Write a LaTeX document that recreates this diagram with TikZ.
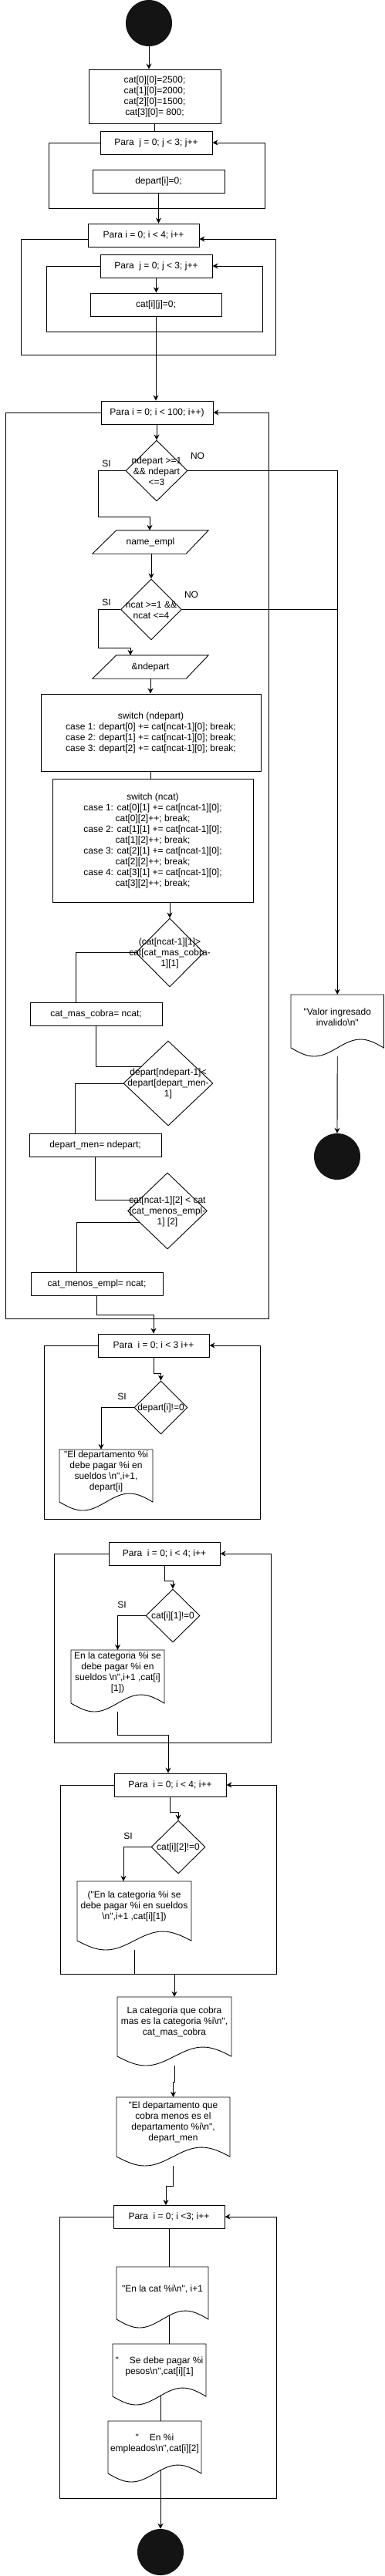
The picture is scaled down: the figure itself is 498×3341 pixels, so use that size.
\documentclass[tikz,border=0pt]{standalone}
\usepackage{fontspec}
\setmainfont{Liberation Sans}
\usetikzlibrary{shapes.geometric,arrows.meta,calc}
\definecolor{termfill}{RGB}{20,20,20}
\newcommand\dqt{\textquotedbl}
\newcommand\bsn{\textbackslash n}
\newcommand\docshape[8]{%
  \pgfmathsetmacro\dsxa{#4-(#4-#2)/4}%
  \pgfmathsetmacro\dsxb{(#2+#4)/2}%
  \pgfmathsetmacro\dsxc{#2+(#4-#2)/4}%
  \pgfmathsetmacro\dsw{#4-#2}%
  \pgfmathsetmacro\dsh{#5+#6-#3}%
  \pgfmathsetmacro\dsyc{(#3+#5+#6)/2}%
  \pgfmathsetmacro\dsyu{#5-#6}%
  \pgfmathsetmacro\dsyd{#5+#6}%
  \node[inner sep=0pt, minimum width=\dsw pt, minimum height=\dsh pt] (#1) at (\dsxb,\dsyc) {};
  \draw[ln, fill=white] (#2,#5) -- (#2,#3) -- (#4,#3) -- (#4,#5) sin (\dsxa,\dsyu) cos (\dsxb,#5) sin (\dsxc,\dsyd) cos (#2,#5) -- cycle;
  \node[txt] (#1-t) at (\dsxb,#7) {#8};
}
\begin{document}
\begin{tikzpicture}[x=1pt,y=-1pt,
  ln/.style={line width=0.9pt, draw=black},
  arr/.style={ln, -{Stealth[length=7pt,width=7pt]}},
  txt/.style={align=center, inner sep=0pt, font=\fontsize{12}{14}\selectfont},
  box/.style={draw, line width=0.9pt, fill=white, inner sep=0pt, align=center, font=\fontsize{12}{14}\selectfont},
  hdr/.style={box, minimum width=145pt, minimum height=30pt},
  dia/.style={diamond, draw, line width=0.9pt, fill=white, inner sep=0pt},
  term/.style={circle, fill=termfill, inner sep=0pt, minimum size=60pt},
  pbody/.style={inner sep=0pt, minimum width=150pt, minimum height=30pt, align=center, font=\fontsize{12}{14}\selectfont}
]
\useasboundingbox (0,0) rectangle (498,3341);
\fill[white] (0,0) rectangle (498,3341);

% ---------- top part ----------
\node[term] (start) at (193,30) {};
\node[box, minimum width=171pt, minimum height=70pt] (init) at (200.5,125) {cat[0][0]=2500;\\cat[1][0]=2000;\\cat[2][0]=1500;\\cat[3][0]= 800;};
\node[hdr] (hA) at (202.5,185) {Para\ \ j = 0; j < 3; j++};
\node[box, minimum width=171pt, minimum height=30pt] (dep) at (205.5,235) {depart[i]=0;};
\node[hdr, minimum width=144pt] (hB) at (186,305) {Para i = 0; i < 4; i++};
\node[hdr] (hC) at (202.5,345) {Para\ \ j = 0; j < 3; j++};
\node[box, minimum width=170pt, minimum height=30pt] (cat) at (202,395) {cat[i][j]=0;};

% ---------- main loop ----------
\node[hdr] (hD) at (203.5,535) {Para i = 0; i < 100; i++)};
\node[dia, minimum width=80pt, minimum height=79pt] (d1) at (203,610.5) {};
\node[txt] (d1t) at (203,611) {ndepart >=1\\\&\& ndepart\\<=3};
\node[txt] (si1) at (138,601) {SI};
\node[txt] (no1) at (256,591) {NO};
\node[pbody] (p1) at (195,703) {name\_empl};
\draw[ln] ([xshift=31pt]p1.north west) -- (p1.north east) -- ([xshift=-29pt]p1.south east) -- (p1.south west) -- cycle;
\node[dia, minimum width=79pt, minimum height=79pt] (d2) at (196,790.5) {};
\node[txt] (d2t) at (196,791) {ncat >=1 \&\&\\ncat <=4};
\node[txt] (si2) at (138,781) {SI};
\node[txt] (no2) at (248,771) {NO};
\node[pbody] (p2) at (195,865) {\&ndepart};
\draw[ln] ([xshift=31pt]p2.north west) -- (p2.north east) -- ([xshift=-29pt]p2.south east) -- (p2.south west) -- cycle;
\node[box, minimum width=285pt, minimum height=100pt] (sw1) at (195.5,950) {switch (ndepart)\\case 1: depart[0] += cat[ncat-1][0]; break;\\case 2: depart[1] += cat[ncat-1][0]; break;\\case 3: depart[2] += cat[ncat-1][0]; break;};
\node[box, minimum width=260pt, minimum height=160pt] (sw2) at (198,1090) {switch (ncat)\\case 1: cat[0][1] += cat[ncat-1][0];\\cat[0][2]++; break;\\case 2: cat[1][1] += cat[ncat-1][0];\\cat[1][2]++; break;\\case 3: cat[2][1] += cat[ncat-1][0];\\cat[2][2]++; break;\\case 4: cat[3][1] += cat[ncat-1][0];\\cat[3][2]++; break;};
\node[dia, minimum width=88pt, minimum height=89pt] (d3) at (220,1235.5) {};
\node[txt] (d3t) at (220,1236) {(cat[ncat-1][1]>\\cat[cat\_mas\_cobra-\\1][1]};
\node[box, minimum width=171pt, minimum height=30pt] (bmas) at (124.5,1315) {cat\_mas\_cobra= ncat;};
\node[dia, minimum width=116pt, minimum height=110pt] (d4) at (218,1405) {};
\node[txt] (d4t) at (218,1405) {depart[ndepart-1]<\\depart[depart\_men-\\1]};
\node[box, minimum width=171pt, minimum height=30pt] (bmen) at (123.5,1485) {depart\_men= ndepart;};
\node[dia, minimum width=103pt, minimum height=99pt] (d5) at (217,1570.5) {};
\node[txt] (d5t) at (217,1571) {cat[ncat-1][2] < cat\\{}[cat\_menos\_empl-\\1] [2]};
\node[box, minimum width=171pt, minimum height=30pt] (bemp) at (125.5,1665) {cat\_menos\_empl= ncat;};

% invalid branch
\docshape{dV}{377}{1290}{497.5}{1359}{11}{1319}{\dqt{}Valor ingresado\\invalido\bsn\dqt{}}
\node[term] (endA) at (437,1500) {};

% ---------- output loops ----------
\node[hdr, minimum width=144pt] (hE) at (199,1745) {Para\ \ i = 0; i < 3 i++};
\node[dia, minimum width=69pt, minimum height=69pt] (d6) at (208.5,1825.5) {};
\node[txt] (d6t) at (208.5,1826) {depart[i]!=0};
\node[txt] (si6) at (158,1811) {SI};
\docshape{dE}{77}{1880}{198}{1948}{11}{1908.5}{\dqt{}El departamento \%i\\debe pagar \%i en\\sueldos \bsn\dqt{},i+1,\\depart[i]}

\node[hdr, minimum width=144pt] (hF) at (213,2015) {Para\ \ i = 0; i < 4; i++};
\node[dia, minimum width=70pt, minimum height=69pt] (d7) at (224,2095.5) {};
\node[txt] (d7t) at (224,2096) {cat[i][1]!=0};
\node[txt] (si7) at (158,2081) {SI};
\docshape{dF}{92}{2140}{213}{2209}{11}{2169}{En la categoria \%i se\\debe pagar \%i en\\sueldos \bsn\dqt{},i+1 ,cat[i]\\{}[1])}

\node[hdr] (hG) at (220.5,2315) {Para\ \ i = 0; i < 4; i++};
\node[dia, minimum width=70pt, minimum height=69pt] (d8) at (231,2395.5) {};
\node[txt] (d8t) at (231,2396) {cat[i][2]!=0};
\node[txt] (si8) at (166,2381) {SI};
\docshape{dG}{100}{2440}{248}{2517}{12}{2472}{(\dqt{}En la categoria \%i se\\debe pagar \%i en sueldos\\\bsn\dqt{},i+1 ,cat[i][1])}

\docshape{dH}{152}{2590}{300}{2667}{12}{2622}{La categoria que cobra\\mas es la categoria \%i\bsn\dqt{},\\cat\_mas\_cobra}
\docshape{dI}{151}{2720}{298}{2797}{12}{2752}{\dqt{}El departamento que\\cobra menos es el\\departamento \%i\bsn\dqt{},\\depart\_men}

\node[hdr, minimum width=144pt] (hH) at (219,2875) {Para\ \ i = 0; i <3; i++};
\docshape{dJ}{151}{2940}{270}{3008}{11}{2969}{\dqt{}En la cat \%i\bsn\dqt{}, i+1}
\docshape{dK}{146}{3040}{267}{3108}{11}{3069}{\dqt\hspace{14pt}Se debe pagar \%i\\pesos\bsn\dqt{},cat[i][1]}
\docshape{dL}{140}{3140}{261}{3208}{11}{3169}{\dqt\hspace{14pt}En \%i\\empleados\bsn\dqt{},cat[i][2]}
\node[term] (endB) at (208,3310) {};

% ---------- loop frames ----------
\coordinate (fA1) at (63,270);  \coordinate (fA2) at (343,270);
\draw[arr] (hA.west) -| (fA1) -- (fA2) |- (hA.east);
\coordinate (fB1) at (27,460);  \coordinate (fB2) at (357,460);
\draw[arr] ([yshift=-5pt]hB.west) -| (fB1) -- (fB2) |- ([yshift=-5pt]hB.east);
\coordinate (fC1) at (60,430);  \coordinate (fC2) at (340,430);
\draw[arr] (hC.west) -| (fC1) -- (fC2) |- (hC.east);
\coordinate (fD1) at (7,1710);  \coordinate (fD2) at (348,1710);
\draw[arr] (hD.west) -| (fD1) -- (fD2) |- (hD.east);
\coordinate (fE1) at (57,1970);  \coordinate (fE2) at (337,1970);
\draw[arr] (hE.west) -| (fE1) -- (fE2) |- (hE.east);
\coordinate (fF1) at (70,2260);  \coordinate (fF2) at (351,2260);
\draw[arr] (hF.west) -| (fF1) -- (fF2) |- (hF.east);
\coordinate (fG1) at (78,2560);  \coordinate (fG2) at (358,2560);
\draw[arr] (hG.west) -| (fG1) -- (fG2) |- (hG.east);
\coordinate (fH1) at (77,3240);  \coordinate (fH2) at (358,3240);
\draw[arr] (hH.west) -| (fH1) -- (fH2) |- (hH.east);

% ---------- connectors ----------
\draw[arr] (start) -- (start |- init.north);
\draw[ln] (init.south) -- (init.south |- hA.north);
\draw[arr] (dep.south) -- (dep.south |- hB.north);
\draw[arr] (hC.south) -- (hC.south |- cat.north);
\draw[arr] (cat.south) -- (cat.south |- hD.north);
\draw[arr] (d1.north |- hD.south) -- (d1.north);
\coordinate (c1) at (127,670);
\draw[arr] (d1.west) -| (c1) -| ([xshift=-1pt]p1.north);
\draw[arr] (d1.east) -| (dV.north);
\draw[arr] (p1.south -| d2.north) -- (d2.north);
\coordinate (c2) at (127,840);
\draw[arr] (d2.west) -| (c2) -| ([xshift=-26pt]p2.north);
\draw[ln] (d2.east) -- (d2.east -| dV.north);
\draw[arr] (p2.south) -- (p2.south |- sw1.north);
\draw[ln] (sw1.south) -- (sw1.south |- sw2.north);
\draw[arr] (d3.north |- sw2.south) -- (d3.north);
\draw[ln] (d3.west) -| ([xshift=-26.5pt]bmas.north);
\coordinate (c3) at (184,1383);
\draw[ln] (bmas.south) |- (c3);
\draw[ln] (d4.west) -| ([xshift=-26.5pt]bmen.north);
\coordinate (c4) at (175,1556);
\draw[ln] (bmen.south) |- (c4);
\coordinate (c5) at (181,1585);
\draw[ln] (c5) -| ([xshift=-26.5pt]bemp.north);
\coordinate (c6) at (199,1705);
\draw[arr] (bemp.south) |- (c6) -- (hE.north);
\draw[arr] (dV.south) -- (endA.north);

\coordinate (c7) at (199,1781);
\draw[arr] (hE.south) -- (c7) -| (d6.north);
\draw[arr] (d6.west) -| ([xshift=-6.5pt]dE.north);
\coordinate (c8) at (213,2050);
\draw[arr] (hF.south) -- (c8) -| (d7.north);
\draw[arr] (d7.west) -| (dF.north);
\coordinate (c9) at (218,2250);
\draw[arr] (dF.south) |- (c9) -- (c9 |- hG.north);
\coordinate (c10) at (220.5,2350);
\draw[arr] (hG.south) -- (c10) -| (d8.north);
\draw[arr] (d8.west) -| ([xshift=-14pt]dG.north);
\draw[ln] (dG.south) -- (dG.south |- fG1);
\draw[arr] (dH.north |- fG1) -- (dH.north);
\coordinate (c11) at (226,2700);
\draw[arr] (dH.south) -- (c11) -| (dI.north);
\coordinate (c12) at (224.5,2835);
\coordinate (c13) at (215,2860);
\draw[arr] (dI.south) -- (c12) -| (c13);
\draw[ln] (hH.south) -- (hH.south |- dJ.north);
\coordinate (c14) at (219,3003);
\draw[ln] (c14) -- (c14 |- dK.north);
\coordinate (c15) at (208,3107);
\draw[ln] (c15) -- (c15 |- dL.north);
\coordinate (c16) at (208,3204);
\draw[arr] (c16) -- (endB.north);
\end{tikzpicture}
\end{document}
